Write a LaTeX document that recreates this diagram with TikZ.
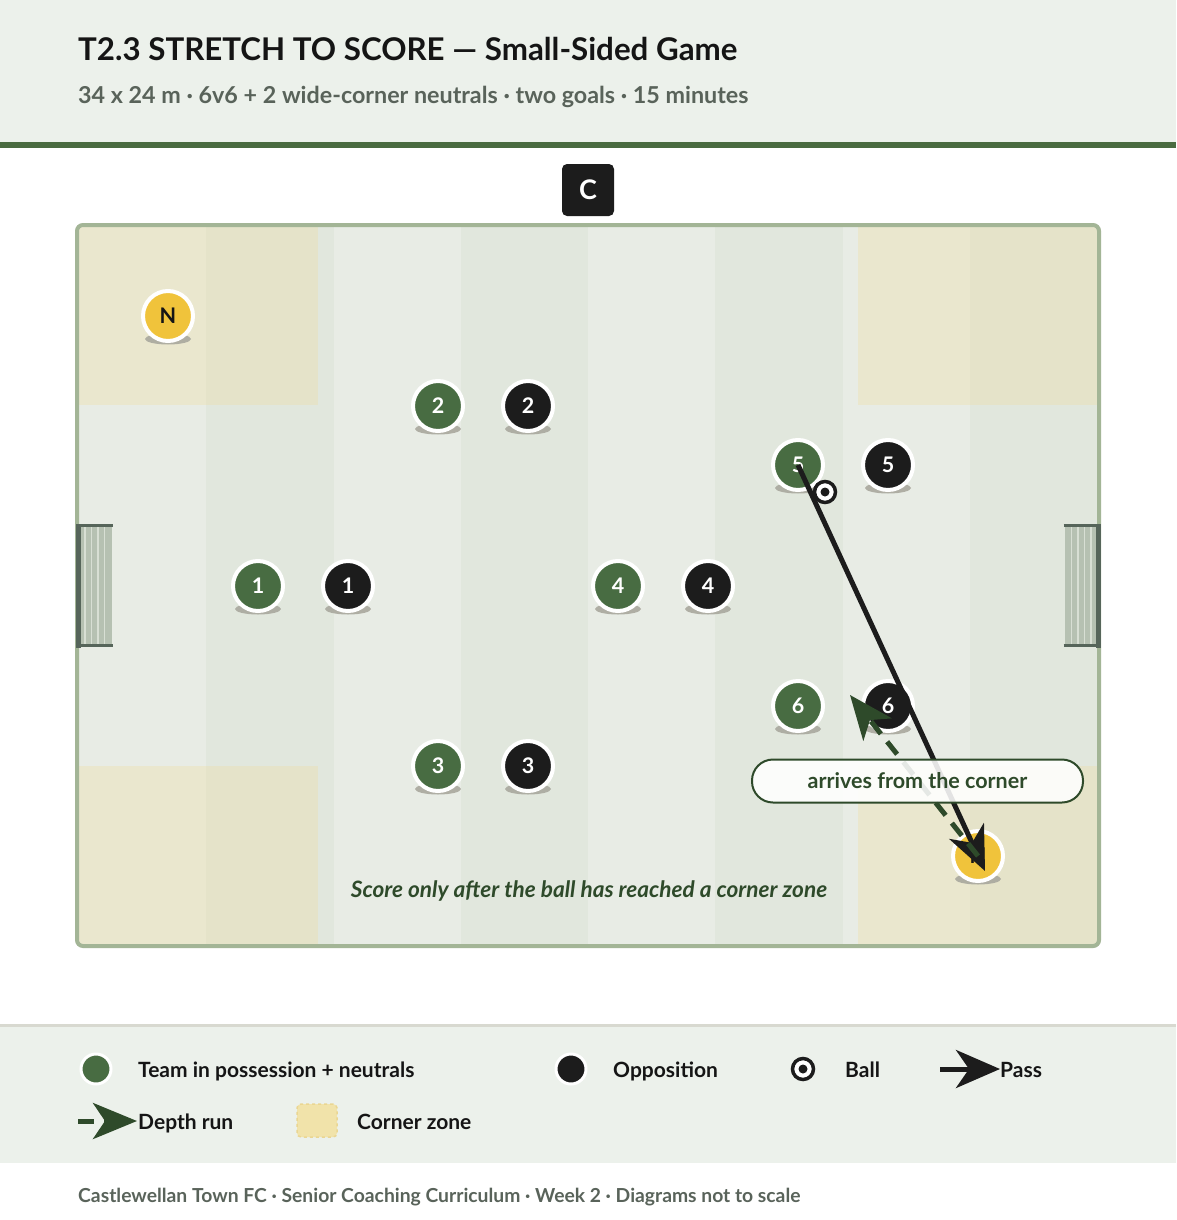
\documentclass[tikz,border=0pt]{standalone}
\usepackage{fontspec}
\setmainfont{Lato}
\usetikzlibrary{arrows.meta,calc}
\definecolor{hdrbg}{HTML}{ECF1EB}
\definecolor{hdrline}{HTML}{4A6B40}
\definecolor{titlecol}{HTML}{151515}
\definecolor{subcol}{HTML}{59635A}
\definecolor{pitchborder}{HTML}{A3B596}
\definecolor{stripeA}{HTML}{E8ECE5}
\definecolor{stripeB}{HTML}{E1E7DD}
\definecolor{zonecol}{HTML}{EFDC9B}
\definecolor{goalframe}{HTML}{56655A}
\definecolor{goalnet}{HTML}{B6C1B2}
\definecolor{netline}{HTML}{D8DFD4}
\definecolor{teamgreen}{HTML}{486C42}
\definecolor{oppblack}{HTML}{1C1C1C}
\definecolor{neutral}{HTML}{F0C33B}
\definecolor{darkgreen}{HTML}{2E4A2A}
\definecolor{legline}{HTML}{D8D9D0}
\definecolor{shadowcol}{HTML}{A9A89E}
\definecolor{zonefill}{HTML}{F1E3AA}
\definecolor{zoneborder}{HTML}{EAD692}
\begin{document}
\begin{tikzpicture}[x=1pt,y=-1pt,
  tok/.style={circle,draw=white,line width=4pt,minimum size=50pt,inner sep=0pt,
    font=\bfseries\fontsize{21.5}{24}\selectfont,text=white},
  green/.style={tok,fill=teamgreen},
  opp/.style={tok,fill=oppblack},
  neut/.style={tok,fill=neutral,text=titlecol},
  legtok/.style={circle,draw=white,line width=3pt,minimum size=30pt,inner sep=0pt},
  legtxt/.style={anchor=base west,inner sep=0pt,font=\bfseries\fontsize{21}{24}\selectfont,text=titlecol},
  passline/.style={draw=oppblack,line width=5pt,-{Stealth[length=44pt,width=38pt,inset=13pt]}},
  runline/.style={draw=darkgreen,line width=5pt,dash pattern=on 16pt off 10pt,-{Stealth[length=44pt,width=36pt,inset=12pt]}},
  ballstyle/.style={circle,draw=oppblack,line width=3.5pt,fill=white,minimum size=21pt,inner sep=0pt}
]
\useasboundingbox (0,0) rectangle (1176,1220);
% backgrounds
\fill[white] (0,0) rectangle (1176,1220);
\fill[hdrbg] (0,0) rectangle (1176,142);
\fill[hdrline] (0,142) rectangle (1176,147.5);
\fill[legline] (0,1024) rectangle (1176,1027);
\fill[hdrbg] (0,1027) rectangle (1176,1163);

% header text
\node[anchor=base west,inner sep=0pt,font=\bfseries\fontsize{31.3}{36}\selectfont,text=titlecol] (title) at (78,61) {T2.3 STRETCH TO SCORE — Small-Sided Game};
\node[anchor=base west,inner sep=0pt,font=\bfseries\fontsize{23.3}{26}\selectfont,text=subcol] (subtitle) at (78,104) {34 x 24 m · 6v6 + 2 wide-corner neutrals · two goals · 15 minutes};

% coach
\node[fill=oppblack,rounded corners=5pt,minimum size=52pt,inner sep=0pt,text=white,font=\bfseries\fontsize{27}{30}\selectfont] (coach) at (588,190) {C};

% pitch
\begin{scope}
\clip[rounded corners=6pt] (77,225) rectangle (1099,946);
\fill[stripeA] (77,225) rectangle (1099,946);
\foreach \i in {1,3,5,7} {
  \fill[stripeB] ({79+127.25*\i},225) rectangle ({79+127.25*(\i+1)},946);
}
\fill[zonecol,opacity=0.3] (77,225) rectangle (318,405);
\fill[zonecol,opacity=0.3] (858,225) rectangle (1099,405);
\fill[zonecol,opacity=0.3] (77,766) rectangle (318,946);
\fill[zonecol,opacity=0.3] (858,766) rectangle (1099,946);
\end{scope}
\draw[pitchborder,line width=4pt,rounded corners=6pt] (77,225) rectangle (1099,946);

% goals
\fill[goalnet] (80,527) rectangle (111.5,645);
\foreach \x in {85,91.5,98,104.5} \draw[netline,line width=1.5pt] (\x,527) -- (\x,645);
\draw[goalframe,line width=5pt] (78,524) -- (78,647.5);
\draw[goalframe,line width=3.5pt] (76,525.5) -- (112.5,525.5);
\draw[goalframe,line width=3.5pt] (76,645.5) -- (112.5,645.5);
\fill[goalnet] (1064.5,527) rectangle (1096,645);
\foreach \x in {1071.5,1078,1084.5,1091} \draw[netline,line width=1.5pt] (\x,527) -- (\x,645);
\draw[goalframe,line width=5pt] (1098,524) -- (1098,647.5);
\draw[goalframe,line width=3.5pt] (1063.5,525.5) -- (1100,525.5);
\draw[goalframe,line width=3.5pt] (1063.5,645.5) -- (1100,645.5);

% shadows
\foreach \px/\py in {168/316,438/406,528/406,798/465,888/465,258/586,348/586,618/586,708/586,798/706,888/706,438/766,528/766,978/856} {
  \fill[shadowcol,opacity=0.9] (\px,\py+23) ellipse (23 and 5.5);
}

% players
\node[neut] (n1) at (168,316) {N};
\node[green] (g2) at (438,406) {2};
\node[opp] (b2) at (528,406) {2};
\node[green] (g5) at (798,465) {5};
\node[opp] (b5) at (888,465) {5};
\node[green] (g1) at (258,586) {1};
\node[opp] (b1) at (348,586) {1};
\node[green] (g4) at (618,586) {4};
\node[opp] (b4) at (708,586) {4};
\node[green] (g6) at (798,706) {6};
\node[opp] (b6) at (888,706) {6};
\node[green] (g3) at (438,766) {3};
\node[opp] (b3) at (528,766) {3};
\node[neut] (n2) at (978,856) {N};

% pass and run
\coordinate (passend) at (985,871);
\coordinate (runend) at (850,695);
\draw[passline] (g5.center) -- (passend);
\draw[runline] (n2.center) -- (runend);

% ball
\node[ballstyle] (ball) at (825,492) {};
\fill[oppblack] (ball.center) circle (4.5);

% label
\node[draw=darkgreen,line width=2pt,fill=white,fill opacity=0.88,text opacity=1,rounded corners=21pt,
  minimum width=331pt,minimum height=43pt,inner sep=0pt,font=\bfseries\fontsize{21.5}{24}\selectfont,text=darkgreen] (lbl) at (917.5,781) {arrives from the corner};

% note
\node[anchor=base,inner sep=0pt,font=\bfseries\itshape\fontsize{22.6}{26}\selectfont,text=darkgreen] (note) at (589,897) {Score only after the ball has reached a corner zone};

% legend
\node[legtok,fill=teamgreen] (lg) at (96,1069) {};
\node[legtxt] (lgt) at (138,1077) {Team in possession + neutrals};
\node[legtok,fill=oppblack] (lo) at (571,1069) {};
\node[legtxt] (lot) at (613,1077) {Opposition};
\node[ballstyle] (lb) at (803,1069) {};
\fill[oppblack] (lb.center) circle (4.5);
\node[legtxt] (lbt) at (845,1077) {Ball};
\coordinate (lp1) at (940,1069);
\coordinate (lp2) at (1000,1069);
\draw[passline] (lp1) -- (lp2);
\node[legtxt] (lpt) at (1000,1077) {Pass};
\coordinate (lr1) at (78,1121);
\coordinate (lr2) at (137,1121);
\draw[runline] (lr1) -- (lr2);
\node[legtxt] (lrt) at (138,1129) {Depth run};
\node[draw=zoneborder,line width=1.5pt,dashed,fill=zonefill,rounded corners=4pt,minimum width=40pt,minimum height=33pt,inner sep=0pt] (lz) at (317,1120.5) {};
\node[legtxt] (lzt) at (357,1129) {Corner zone};

% footer
\node[anchor=base west,inner sep=0pt,font=\bfseries\fontsize{19.3}{22}\selectfont,text=subcol] (footer) at (78,1202) {Castlewellan Town FC · Senior Coaching Curriculum · Week 2 · Diagrams not to scale};
\end{tikzpicture}
\end{document}
